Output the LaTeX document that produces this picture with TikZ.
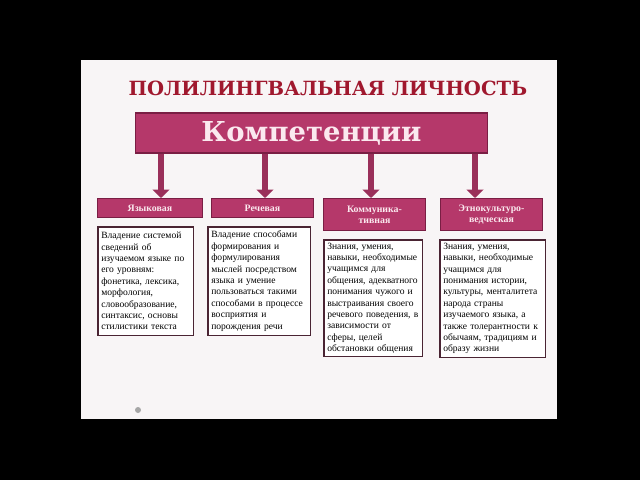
\documentclass[tikz,border=0pt]{standalone}
\usepackage{fontspec}
\setmainfont{Liberation Serif}
\newfontfamily\titlefont{DejaVu Serif}
\usetikzlibrary{positioning, arrows.meta, calc}
\definecolor{slidebg}{HTML}{F8F5F6}
\definecolor{titlered}{HTML}{A0182E}
\definecolor{crimson}{HTML}{B5386A}
\definecolor{crimsondark}{HTML}{7A1E44}
\definecolor{paleink}{HTML}{FBE9EF}
\definecolor{boxline}{HTML}{4A2433}

\begin{document}
\begin{tikzpicture}[x=0.025cm, y=-0.025cm, >=Triangle,
    head/.style={draw=crimsondark, line width=0.9pt, fill=crimson, text=paleink, inner sep=0pt, align=center,
      font=\bfseries\fontsize{7}{7.8}\selectfont, anchor=north west},
    info/.style={draw=boxline, line width=1.1pt, fill=white, inner ysep=0pt, inner xsep=2.5pt, align=left,
      font=\fontsize{6.8}{8.1}\selectfont, anchor=north west},
    arr/.style={line width=4.5pt, draw=crimson!85!black, -{Triangle[width=12pt, length=6pt]}}]
      \fill[black] (0,0) rectangle (640,480);
      \useasboundingbox (0,0) rectangle (640,480);
      \fill[slidebg] (81,60) rectangle (557,419);
      \fill[gray!70] (138,410) circle (3);
      \node[text=titlered, font=\titlefont\bfseries\fontsize{13.9}{16}\selectfont] (title) at (328,88) {ПОЛИЛИНГВАЛЬНАЯ ЛИЧНОСТЬ};
      \node[draw=crimsondark, line width=1pt, fill=crimson, text=paleink, minimum width=250pt, minimum height=28.3pt,
        font=\titlefont\bfseries\fontsize{19.5}{22}\selectfont] (comp) at (311.5,133) {Компетенции};
      % headers
      \node[head, minimum width=74.4pt, minimum height=13.5pt] (h1) at (97,198) {Языковая};
      \node[head, minimum width=72.3pt, minimum height=13.5pt] (h2) at (211,198) {Речевая};
      \node[head, minimum width=72.3pt, minimum height=22.7pt] (h3) at (323,198) {Коммуника-\\тивная};
      \node[head, minimum width=72.3pt, minimum height=22.7pt] (h4) at (440,198) {Этнокультуро-\\ведческая};
      % arrows
      \foreach \i/\xa in {1/161, 2/265, 3/371, 4/475}
        \draw[arr] (comp.south -| \xa,0) -- (h\i.north -| \xa,0);
      % contents
      \node[info, minimum height=77.3pt, text width=63pt] (b1) at (97,226)
        {Владение системой\\сведений об\\изучаемом языке по\\его уровням:\\фонетика, лексика,\\морфология,\\словообразование,\\синтаксис, основы\\стилистики текста};
      \node[info, minimum height=77.3pt, text width=68pt] (b2) at (207,226)
        {Владение способами\\формирования и\\формулирования\\мыслей посредством\\языка и умение\\пользоваться такими\\способами в процессе\\восприятия и\\порождения речи};
      \node[info, minimum height=83pt, text width=65.2pt] (b3) at (323,239)
        {Знания, умения,\\навыки, необходимые\\учащимся для\\общения, адекватного\\понимания чужого и\\выстраивания своего\\речевого поведения, в\\зависимости от\\сферы, целей\\обстановки общения};
      \node[info, minimum height=83.6pt, text width=70.1pt] (b4) at (439,239)
        {Знания, умения,\\навыки, необходимые\\учащимся для\\понимания истории,\\культуры, менталитета\\народа страны\\изучаемого языка, а\\также толерантности к\\обычаям, традициям и\\образу жизни};
    \end{tikzpicture}
\end{document}
